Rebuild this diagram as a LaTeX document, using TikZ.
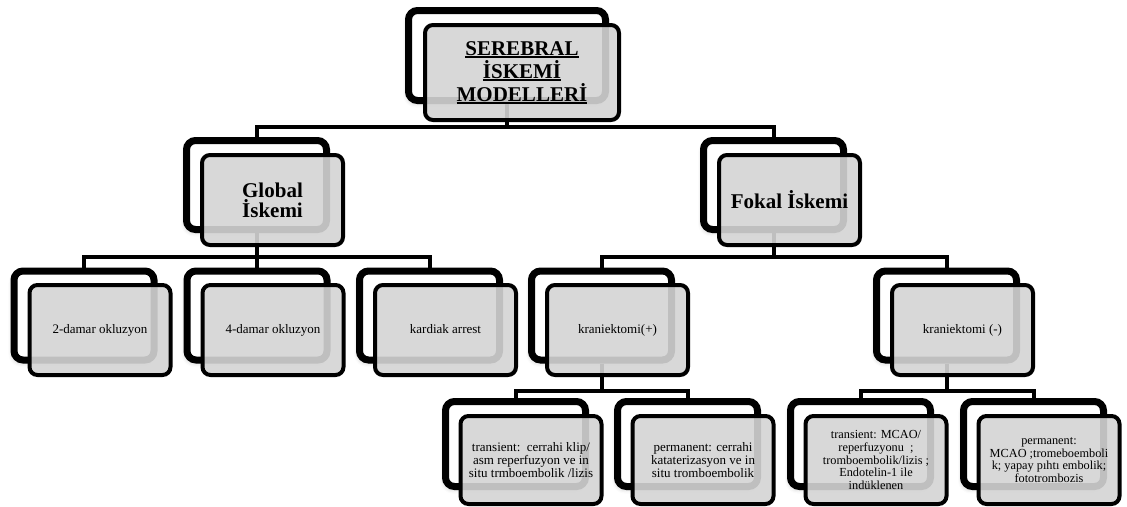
\documentclass[tikz,border=0pt]{standalone}
\usepackage{fontspec}
\setmainfont{Liberation Serif}
\usetikzlibrary{shadows.blur}
\definecolor{frontgray}{RGB}{212,212,212}
\newcommand{\myul}[1]{\setbox0\hbox{#1}\rlap{\rule[-2.6pt]{\wd0}{1.6pt}}\box0}
\tikzset{
  backbox/.style={draw=black, line width=7pt, fill=white, rounded corners=9pt, inner sep=0pt,
    minimum width=140pt, minimum height=89pt,
    blur shadow={shadow xshift=-1.5pt, shadow yshift=-3pt, shadow opacity=22, shadow blur radius=4pt}},
  frontbox/.style={draw=black, line width=4pt, fill=frontgray, fill opacity=0.9, rounded corners=8pt,
    inner sep=0pt, minimum width=141pt, minimum height=90pt},
  conn/.style={draw=black, line width=4pt},
  toplabel/.style={align=center, text=black, font=\fontsize{21}{23}\selectfont\bfseries},
  midlabel/.style={align=center, text=black, font=\fontsize{21}{20}\selectfont\bfseries},
  lowlabel/.style={text=black, font=\fontsize{13}{15}\selectfont, text height=9pt, text depth=3pt},
  leaflabel/.style={align=center, text=black, font=\fontsize{13}{12.8}\selectfont},
  leafsmall/.style={align=center, text=black, font=\fontsize{12.3}{12.8}\selectfont},
}
\begin{document}
\begin{tikzpicture}[x=1pt,y=-1pt]
\useasboundingbox (0,0) rectangle (1127,506);
% ---- back boxes ----
\node[backbox, minimum width=197pt, minimum height=90pt] (rootB) at (507,55.5) {};
\node[backbox] (globB) at (256.5,185) {};
\node[backbox] (fokB) at (773.5,185) {};
\node[backbox] (l3aB) at (84,315.5) {};
\node[backbox] (l3bB) at (257,315.5) {};
\node[backbox] (l3cB) at (429.5,315.5) {};
\node[backbox] (l3dB) at (601.5,315.5) {};
\node[backbox] (l3eB) at (946.5,315.5) {};
\node[backbox, minimum height=85pt] (l4aB) at (515.5,444) {};
\node[backbox, minimum height=85pt] (l4bB) at (687.5,444) {};
\node[backbox, minimum height=85pt] (l4cB) at (860.5,444) {};
\node[backbox, minimum height=85pt] (l4dB) at (1033.5,444) {};
% ---- connectors ----
\coordinate (h0) at (0,127);
\coordinate (h1) at (0,257);
\coordinate (h2) at (0,391);
\draw[conn] (rootB.south) -- (rootB.south |- h0) -| (globB.north);
\draw[conn] (rootB.south |- h0) -| (fokB.north);
\draw[conn] (globB.south) -- (globB.south |- h1) -| (l3aB.north);
\draw[conn] (globB.south |- h1) -| (l3bB.north);
\draw[conn] (globB.south |- h1) -| (l3cB.north);
\draw[conn] (fokB.south) -- (fokB.south |- h1) -| (l3dB.north);
\draw[conn] (fokB.south |- h1) -| (l3eB.north);
\draw[conn] (l3dB.south) -- (l3dB.south |- h2) -| (l4aB.north);
\draw[conn] (l3dB.south |- h2) -| (l4bB.north);
\draw[conn] (l3eB.south) -- (l3eB.south |- h2) -| (l4cB.north);
\draw[conn] (l3eB.south |- h2) -| (l4dB.north);
% ---- front boxes ----
\node[frontbox, minimum width=194pt, minimum height=95pt] (rootF) at (522,72.5) {};
\node[frontbox] (globF) at (272.5,200) {};
\node[frontbox] (fokF) at (789.5,200) {};
\node[frontbox] (l3aF) at (100,330) {};
\node[frontbox] (l3bF) at (273,330) {};
\node[frontbox] (l3cF) at (445.5,330) {};
\node[frontbox] (l3dF) at (617.5,330) {};
\node[frontbox] (l3eF) at (962.5,330) {};
\node[frontbox, minimum height=88pt] (l4aF) at (531,460) {};
\node[frontbox, minimum height=88pt] (l4bF) at (703,460) {};
\node[frontbox, minimum height=88pt] (l4cF) at (876,460) {};
\node[frontbox, minimum height=88pt] (l4dF) at (1049,460) {};
% ---- labels ----
\node[toplabel] (rootT) at (rootF.center) {\myul{SEREBRAL}\\\myul{İSKEMİ}\\\myul{MODELLERİ}};
\node[midlabel] (globT) at (globF.center) {Global\\İskemi};
\node[midlabel] (fokT) at (fokF.center) {Fokal İskemi};
\node[lowlabel] (l3aT) at (l3aF.center) {2-damar okluzyon};
\node[lowlabel] (l3bT) at (l3bF.center) {4-damar okluzyon};
\node[lowlabel] (l3cT) at (l3cF.center) {kardiak arrest};
\node[lowlabel] (l3dT) at (l3dF.center) {kraniektomi(+)};
\node[lowlabel] (l3eT) at (l3eF.center) {kraniektomi (-)};
\node[leaflabel] (l4aT) at (l4aF.center) {transient:\ \ cerrahi klip/\\asm reperfuzyon ve in\\situ trmboembolik /lizis};
\node[leaflabel] (l4bT) at (l4bF.center) {permanent: cerrahi\\kataterizasyon ve in\\situ tromboembolik};
\node[leafsmall] (l4cT) at (l4cF.center) {transient: MCAO/\\reperfuzyonu\ \ ;\\tromboembolik/lizis ;\\Endotelin-1 ile\\indüklenen};
\node[leafsmall] (l4dT) at (l4dF.center) {permanent:\\MCAO ;tromeboemboli\\k; yapay pıhtı embolik;\\fototrombozis};
\end{tikzpicture}
\end{document}
